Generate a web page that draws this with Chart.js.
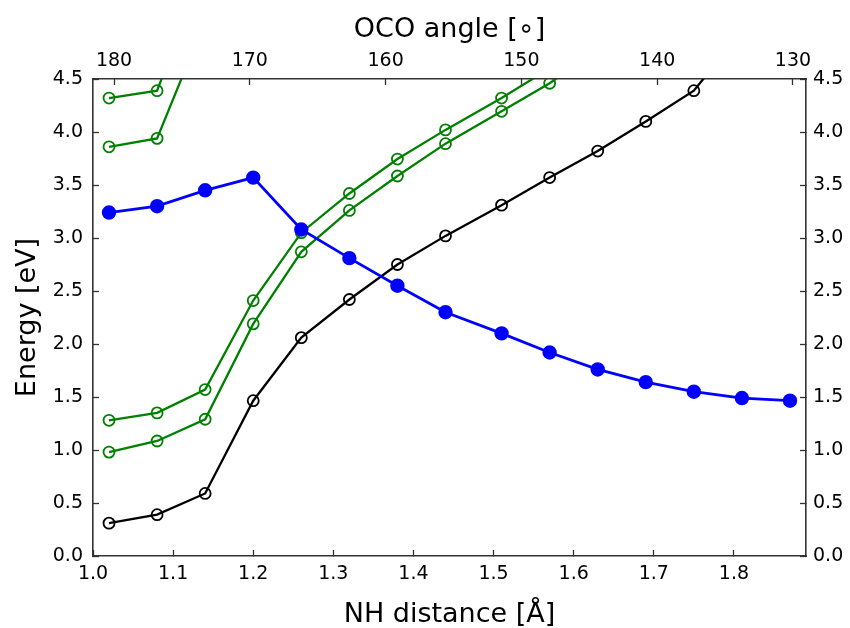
<!DOCTYPE html>
<html>
<head>
<meta charset="utf-8">
<script src="https://cdn.jsdelivr.net/npm/chart.js@4"></script>
<style>
  html, body { margin: 0; padding: 0; background: #fff; }
  #wrap { position: relative; width: 850px; height: 628px; }
</style>
</head>
<body>
<div id="wrap"><canvas id="energyChart"></canvas></div>
<script>
// NH distance of each scan point [Å]
const nhDistance = [1.02, 1.08, 1.14, 1.20, 1.26, 1.32, 1.38, 1.44, 1.51, 1.57, 1.63, 1.69, 1.75, 1.81, 1.87];

// energies [eV] (last points of some curves run off the top of the plot)
const blueEnergy  = [3.24, 3.30, 3.45, 3.57, 3.08, 2.81, 2.55, 2.30, 2.10, 1.92, 1.76, 1.64, 1.55, 1.49, 1.465];
const blackEnergy = [0.31, 0.39, 0.59, 1.465, 2.06, 2.42, 2.75, 3.02, 3.31, 3.57, 3.82, 4.10, 4.39, 4.95];
const greenA      = [1.28, 1.35, 1.57, 2.41, 3.05, 3.42, 3.745, 4.02, 4.32, 4.60];
const greenB      = [0.98, 1.085, 1.29, 2.19, 2.87, 3.26, 3.585, 3.89, 4.195, 4.46, 4.78];
const greenC      = [4.32, 4.39, 5.58];
const greenD      = [3.86, 3.94, 5.05];

// tick labels
const nhTicks     = [1.0, 1.1, 1.2, 1.3, 1.4, 1.5, 1.6, 1.7, 1.8];
const angleTicks  = [180, 170, 160, 150, 140, 130];
const energyTicks = [0.0, 0.5, 1.0, 1.5, 2.0, 2.5, 3.0, 3.5, 4.0, 4.5];

const FONT = 'DejaVu Sans';
const AXIS_COLOR = '#333';

function pts(ys) {
  return ys.map((y, i) => ({ x: nhDistance[i], y }));
}

function lineSet(ys, color, filled) {
  return {
    data: pts(ys),
    borderColor: color,
    borderWidth: filled ? 2.8 : 2.3,
    pointRadius: filled ? 6.3 : 5.5,
    pointBorderWidth: 1.8,
    pointBackgroundColor: filled ? color : 'rgba(0,0,0,0)',
    pointBorderColor: color,
    tension: 0,
    clip: 0,
    xAxisID: 'x',
    yAxisID: 'y',
  };
}

function fixedTicks(list) {
  return scale => { scale.ticks = list.map(v => ({ value: v })); };
}

const tickFont = { family: FONT, size: 19 };
const titleFont = { family: FONT, size: 27, lineHeight: 1 };
const gridOpts = { drawOnChartArea: false, drawTicks: true, tickLength: -6, tickWidth: 1.3, tickColor: AXIS_COLOR };
const borderOpts = { display: true, color: AXIS_COLOR, width: 1.6 };

new Chart(document.getElementById('energyChart'), {
  type: 'line',
  data: {
    datasets: [
      lineSet(blueEnergy, '#0000ff', true),
      lineSet(blackEnergy, '#000000', false),
      lineSet(greenA, '#008000', false),
      lineSet(greenB, '#008000', false),
      lineSet(greenC, '#008000', false),
      lineSet(greenD, '#008000', false),
    ]
  },
  options: {
    responsive: true,
    maintainAspectRatio: false,
    animation: false,
    layout: { padding: 0 },
    plugins: { legend: { display: false }, tooltip: { enabled: false } },
    scales: {
      x: {
        type: 'linear', position: 'bottom', min: 1.0, max: 1.89,
        afterBuildTicks: fixedTicks(nhTicks),
        afterFit: s => { s.height = 72; },
        ticks: { font: tickFont, color: '#000', padding: 13, maxRotation: 0, callback: v => v.toFixed(1) },
        grid: gridOpts, border: borderOpts,
        title: { display: true, text: 'NH distance [Å]', font: titleFont, color: '#000', padding: { top: 0, bottom: 0 } }
      },
      x2: {
        type: 'linear', position: 'top', min: 129.04, max: 181.55, reverse: true,
        afterBuildTicks: fixedTicks(angleTicks),
        afterFit: s => { s.height = 79; },
        ticks: { font: tickFont, color: '#000', padding: 13, maxRotation: 0, callback: v => String(v) },
        grid: gridOpts, border: borderOpts,
        title: { display: true, text: 'OCO angle [∘]', font: titleFont, color: '#000', padding: { top: 16, bottom: 0 } }
      },
      y: {
        type: 'linear', position: 'left', min: 0, max: 4.5,
        afterBuildTicks: fixedTicks(energyTicks),
        afterFit: s => { s.width = 93; },
        ticks: { font: tickFont, color: '#000', padding: 16, callback: v => v.toFixed(1) },
        grid: gridOpts, border: borderOpts,
        title: { display: true, text: 'Energy [eV]', font: titleFont, color: '#000', padding: { top: 14.5, bottom: 0 } }
      },
      y2: {
        type: 'linear', position: 'right', min: 0, max: 4.5,
        afterBuildTicks: fixedTicks(energyTicks),
        afterFit: s => { s.width = 44; },
        ticks: { font: tickFont, color: '#000', padding: 13, callback: v => v.toFixed(1) },
        grid: gridOpts, border: borderOpts
      }
    }
  }
});
</script>
</body>
</html>
